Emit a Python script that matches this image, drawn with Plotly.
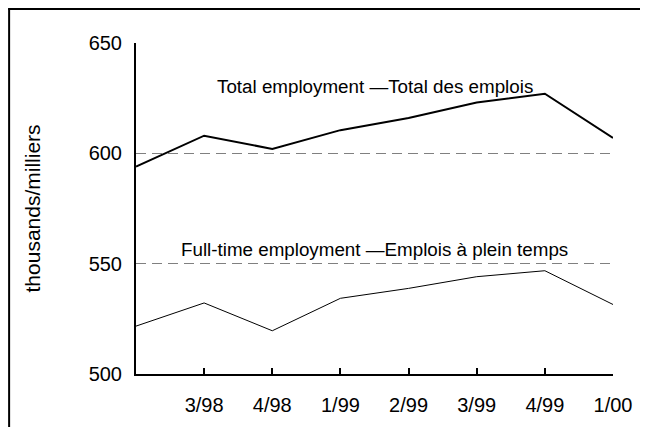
import plotly.graph_objects as go

quarters = ["2/98", "3/98", "4/98", "1/99", "2/99", "3/99", "4/99", "1/00"]
tick_labels = ["", "3/98", "4/98", "1/99", "2/99", "3/99", "4/99", "1/00"]
total_emp = [594, 608, 602, 610.5, 616, 623, 627, 607]
fulltime_emp = [521.7, 532.2, 519.6, 534.3, 538.8, 544.1, 546.8, 531.5]

y_ticks = [500, 550, 600, 650]
font = "Liberation Sans, Arial, sans-serif"

xpos = list(range(len(quarters)))

fig = go.Figure()
fig.add_trace(go.Scatter(x=xpos, y=total_emp, mode="lines",
                         line=dict(color="black", width=2), hoverinfo="skip"))
fig.add_trace(go.Scatter(x=xpos, y=fulltime_emp, mode="lines",
                         line=dict(color="black", width=1), hoverinfo="skip"))

fig.add_annotation(x=3.5, y=630.5, text="Total employment \u2014Total des emplois",
                   showarrow=False, font=dict(size=18.8, color="black", family=font))
fig.add_annotation(x=3.5, y=556.6, text="Full-time employment \u2014Emplois \u00e0 plein temps",
                   showarrow=False, font=dict(size=18.8, color="black", family=font))

# y axis title placed by hand
fig.add_annotation(xref="paper", yref="paper", x=-0.216, y=0.5,
                   xanchor="center", yanchor="middle",
                   text="thousands/milliers", textangle=-90, showarrow=False,
                   font=dict(size=21, color="black", family=font))

# outer frame: only top and left edges show, the rest runs off the page
fig.add_shape(type="line", xref="paper", yref="paper",
              x0=-0.268, x1=1.2, y0=1.103, y1=1.103,
              line=dict(color="black", width=2))
fig.add_shape(type="line", xref="paper", yref="paper",
              x0=-0.266, x1=-0.266, y0=1.105, y1=-0.3,
              line=dict(color="black", width=2))

fig.update_layout(
    width=640, height=419,
    margin=dict(l=128, r=35, t=35, b=53),
    paper_bgcolor="white", plot_bgcolor="white",
    showlegend=False,
    font=dict(family=font, color="black"),
    xaxis=dict(
        range=[0, 7], tickmode="array", tickvals=xpos, ticktext=tick_labels,
        ticks="inside", ticklen=6, tickwidth=2, tickcolor="black",
        showline=True, linecolor="black", linewidth=2,
        showgrid=False, zeroline=False, automargin=False,
        tickfont=dict(size=20), ticklabelstandoff=12,
    ),
    yaxis=dict(
        range=[500, 650], tickvals=y_ticks,
        showline=True, linecolor="black", linewidth=2,
        showgrid=True, gridcolor="#808080", griddash="10px,6px", gridwidth=1,
        zeroline=False, ticks="", tickfont=dict(size=20),
        ticklabelstandoff=8, automargin=False,
    ),
)

fig.write_html("out.html")
